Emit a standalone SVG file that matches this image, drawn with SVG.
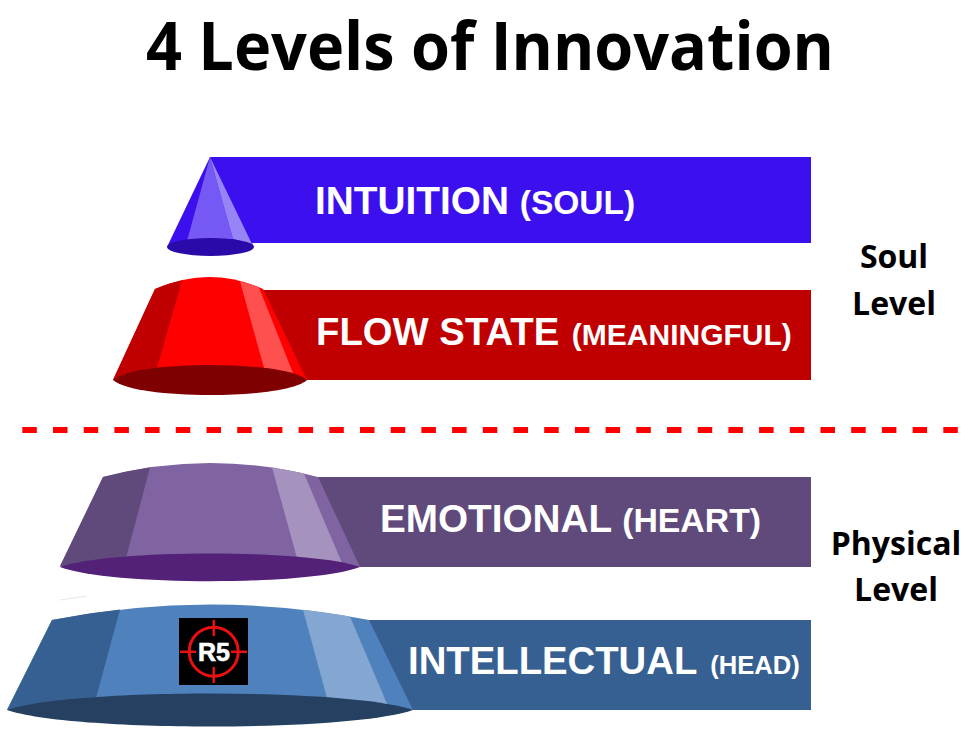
<svg xmlns="http://www.w3.org/2000/svg" width="973" height="744" viewBox="0 0 973 744">
<style>
text{font-family:"Liberation Sans",Arial,sans-serif;font-weight:700;fill:#fff}
.t{font-family:"Open Sans","Noto Sans",sans-serif;fill:#000}
.side{font-family:"Open Sans","Noto Sans",sans-serif;font-size:32px;fill:#000;text-anchor:middle}
</style>
<rect width="973" height="744" fill="#fff"/>
<text class="t" x="146" y="70" font-size="66" textLength="688" lengthAdjust="spacingAndGlyphs">4 Levels of Innovation</text>
<g id="intuition">
<rect x="210" y="157" width="601" height="86" fill="#3c0fee"/>
<path d="M210 157L167 247L254 247Z" fill="#3c0fee"/>
<path d="M210 157L187 241L233 239Z" fill="#7658f4"/>
<path d="M210 157L233 239L252 244Z" fill="#9784f6"/>
<ellipse cx="210.500" cy="247" rx="43.500" ry="9" fill="#2a0aa8"/>
<text x="315" y="214" font-size="38.800">INTUITION <tspan font-size="33.500">(SOUL)</tspan></text>
</g>
<g id="flow-state">
<rect x="260" y="290" width="551" height="90" fill="#c00000"/>
<path d="M155 289Q210 265 263 289L307 380L113 380Z" fill="#f00"/>
<path d="M155 289Q168.750 283 182 280.500L157 368L113 380Z" fill="#c00000"/>
<path d="M240 281.500Q249.500 283.500 259 287.500L293 373L264 368Z" fill="#ff5050"/>
<path d="M113 380C135 360 285 360 307 380C285 400 135 400 113 380Z" fill="#7f0000"/>
<text x="316" y="345" font-size="38.300">FLOW STATE <tspan font-size="30" dx="2">(MEANINGFUL)</tspan></text>
</g>
<g id="connectors">
<path d="M22.300 430H960" stroke="#f00" stroke-width="6" stroke-dasharray="14.500 16.200" fill="none"/>
</g>
<g id="emotional">
<rect x="318" y="477" width="493" height="90" fill="#604a7b"/>
<path d="M103 477Q210 449 318 477L360 567L60 567Z" fill="#8064a2"/>
<path d="M103 477Q126 471 150 467.500L126 558L60 566Z" fill="#604a7b"/>
<path d="M272 467.500Q288 470 304 473.500L342 563L297 558Z" fill="#a692bf"/>
<path d="M60 567C110 549 310 549 360 567C310 586 110 586 60 567Z" fill="#542179"/>
<text x="380" y="532" font-size="38.700">EMOTIONAL <tspan font-size="33.800">(HEART)</tspan></text>
</g>
<g id="intellectual">
<path d="M60 600L87 596" stroke="#ddd" stroke-width="0.700" fill="none"/>
<rect x="369" y="620" width="442" height="90" fill="#376092"/>
<path d="M52 620Q210 589 369 620L413 710L7 710Z" fill="#4f81bd"/>
<path d="M52 620Q86 613.300 120 609.500L96 698L7 710Z" fill="#376092"/>
<path d="M303 609.700Q326.500 612.400 350 616.500L388 706L327 698Z" fill="#84a7d1"/>
<path d="M7 710C70 688 350 688 413 710C350 732 70 732 7 710Z" fill="#254061"/>
<text x="408" y="674" font-size="38.300">INTELLECTUAL <tspan font-size="25.600" dx="3">(HEAD)</tspan></text>
<rect x="179" y="618" width="69" height="67" fill="#000"/>
<circle cx="213.700" cy="651.700" r="24.500" fill="none" stroke="#e81010" stroke-width="3"/>
<path d="M180 651.700H196M231 651.700H247M213.700 620V636M213.700 667V683" stroke="#e81010" stroke-width="2.500" fill="none"/>
<text x="214" y="660.500" font-size="25" text-anchor="middle" stroke="#fff" stroke-width="0.600">R5</text>
</g>
<g id="soul-level">
<text class="side" x="894" y="268">Soul</text>
<text class="side" x="894" y="315">Level</text>
</g>
<g id="physical-level">
<text class="side" x="896" y="555">Physical</text>
<text class="side" x="896" y="601">Level</text>
</g>
</svg>
